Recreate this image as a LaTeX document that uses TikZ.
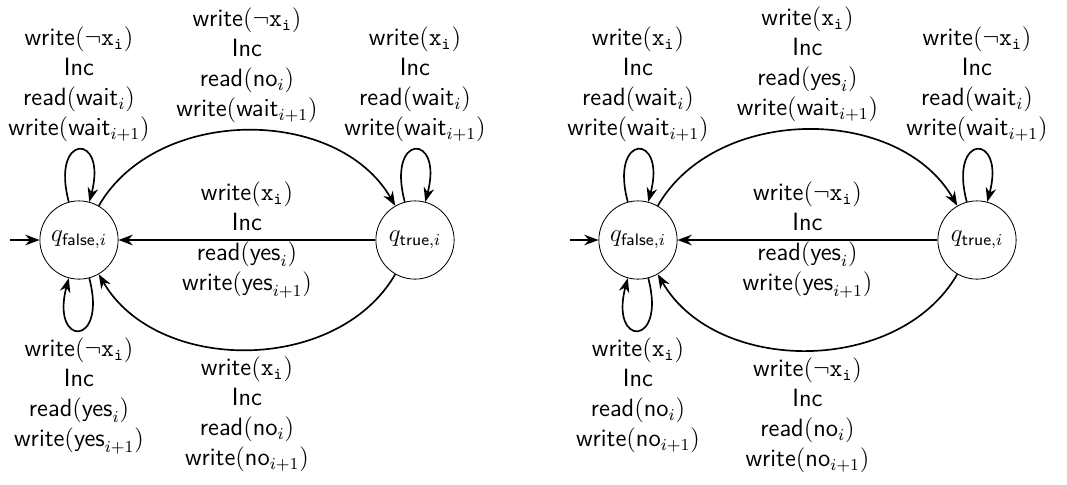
\documentclass[tikz,border=0pt]{standalone}
\usepackage{amsmath,amssymb}
\usepackage{tikz}
\usetikzlibrary{arrows.meta}

\newcommand{\wrt}[1]{write$(#1)$}
\newcommand{\rd}[1]{read$(#1)$}
\newcommand{\trans}[3]{\wrt{#1}\\Inc\\\rd{#2}\\\wrt{#3}}

\begin{document}
\begin{tikzpicture}[scale=1,>={Stealth[length=2.4mm,width=1.8mm]}]
%
\tikzstyle{st}=[draw,shape=circle,minimum size=1.32cm,inner sep=0pt,font=\fontsize{12}{14}\selectfont]
\tikzstyle{tr}=[->,thick]
\tikzstyle{lp}=[looseness=9]
\tikzstyle{lbl}=[align=center,font=\sffamily\fontsize{12}{14.4}\selectfont]
%
\useasboundingbox (0,0) rectangle (18.0,8.165);
%
% left automaton
\node[st](qf1) at (1.333,4.116){$q_{\mathsf{false},i}$};
\node[st](qt1) at (7.001,4.116){$q_{\mathsf{true},i}$};
\coordinate (in1) at (0.169,4.116);
%
\draw[tr] (in1) -- (qf1);
\draw[tr] (qf1) to[loop above,lp] node[lbl,above]{\trans{\neg\mathtt{x_i}}{\mathsf{wait}_i}{\mathsf{wait}_{i+1}}} (qf1);
\draw[tr] (qf1) to[loop below,lp] node[lbl,below]{\trans{\neg\mathtt{x_i}}{\mathsf{yes}_i}{\mathsf{yes}_{i+1}}} (qf1);
\draw[tr] (qt1) to[loop above,lp] node[lbl,above]{\trans{\mathtt{x_i}}{\mathsf{wait}_i}{\mathsf{wait}_{i+1}}} (qt1);
\draw[tr] (qf1) to[bend left=60] node[lbl,above]{\trans{\neg\mathtt{x_i}}{\mathsf{no}_i}{\mathsf{wait}_{i+1}}} (qt1);
\draw[tr] (qt1) -- node[lbl]{\trans{\mathtt{x_i}}{\mathsf{yes}_i}{\mathsf{yes}_{i+1}}} (qf1);
\draw[tr] (qt1) to[bend left=60] node[lbl,below]{\trans{\mathtt{x_i}}{\mathsf{no}_i}{\mathsf{no}_{i+1}}} (qf1);
%
% right automaton
\node[st](qf2) at (10.763,4.116){$q_{\mathsf{false},i}$};
\node[st](qt2) at (16.482,4.116){$q_{\mathsf{true},i}$};
\coordinate (in2) at (9.616,4.116);
%
\draw[tr] (in2) -- (qf2);
\draw[tr] (qf2) to[loop above,lp] node[lbl,above]{\trans{\mathtt{x_i}}{\mathsf{wait}_i}{\mathsf{wait}_{i+1}}} (qf2);
\draw[tr] (qf2) to[loop below,lp] node[lbl,below]{\trans{\mathtt{x_i}}{\mathsf{no}_i}{\mathsf{no}_{i+1}}} (qf2);
\draw[tr] (qt2) to[loop above,lp] node[lbl,above]{\trans{\neg\mathtt{x_i}}{\mathsf{wait}_i}{\mathsf{wait}_{i+1}}} (qt2);
\draw[tr] (qf2) to[bend left=60] node[lbl,above]{\trans{\mathtt{x_i}}{\mathsf{yes}_i}{\mathsf{wait}_{i+1}}} (qt2);
\draw[tr] (qt2) -- node[lbl]{\trans{\neg\mathtt{x_i}}{\mathsf{yes}_i}{\mathsf{yes}_{i+1}}} (qf2);
\draw[tr] (qt2) to[bend left=60] node[lbl,below]{\trans{\neg\mathtt{x_i}}{\mathsf{no}_i}{\mathsf{no}_{i+1}}} (qf2);
\end{tikzpicture}
\end{document}
